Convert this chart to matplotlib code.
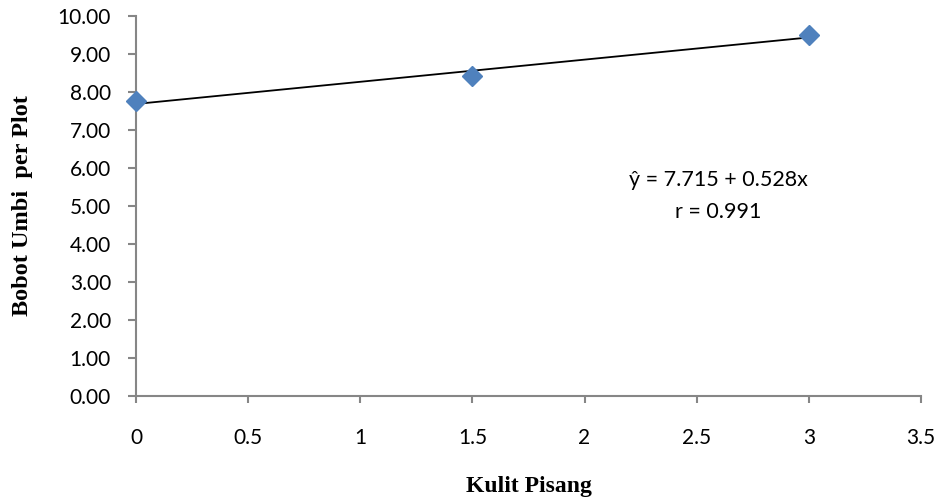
import numpy as np
import matplotlib
matplotlib.use('Agg')
import matplotlib.pyplot as plt

# Datos
KulitPisang = [0, 1.5, 3]
BobotUmbi = [7.75, 8.43, 9.50]
Ecuacion = 'ŷ = 7.715 + 0.528x'
Correlacion = 'r = 0.991'
XTicks = [0, 0.5, 1, 1.5, 2, 2.5, 3, 3.5]
YTicks = [0, 1, 2, 3, 4, 5, 6, 7, 8, 9, 10]

ColorEje = '#868686'
ColorPunto = '#4F81BD'

plt.rcParams['font.family'] = ['Lato', 'DejaVu Sans']

fig = plt.figure(figsize=(9.39, 4.98), dpi=100)
ax = fig.add_axes([0.1448, 0.2048, 0.836, 0.7631])

# Línea de tendencia (ajuste lineal)
coef = np.polyfit(KulitPisang, BobotUmbi, 1)
xs = np.array([KulitPisang[0], KulitPisang[-1]])
ax.plot(xs, np.polyval(coef, xs), color='black', linewidth=1.3, zorder=2)

ax.plot(KulitPisang, BobotUmbi, linestyle='none', marker='D', markersize=10.5,
        color=ColorPunto, markeredgecolor=ColorPunto, zorder=3, clip_on=False)

ax.set_xlim(0, 3.5)
ax.set_ylim(0, 10)
ax.set_xticks(XTicks)
ax.set_xticklabels([f'{t:g}' for t in XTicks])
ax.set_yticks(YTicks)
ax.set_yticklabels([f'{t:.2f}' for t in YTicks])

for s in ['top', 'right']:
    ax.spines[s].set_visible(False)
for s in ['left', 'bottom']:
    ax.spines[s].set_color(ColorEje)
    ax.spines[s].set_linewidth(1.5)

ax.tick_params(axis='x', direction='out', length=5, width=1.5, color=ColorEje,
               labelsize=15, pad=18)
ax.tick_params(axis='y', direction='out', length=6, width=1.5, color=ColorEje,
               labelsize=15, pad=12)

ax.set_xlabel('Kulit Pisang', family='Liberation Serif', fontweight='bold', fontsize=17)
ax.set_ylabel('Bobot Umbi  per Plot', family='Liberation Serif', fontweight='bold', fontsize=17.5)
ax.xaxis.set_label_coords(0.5, -0.21)
ax.yaxis.set_label_coords(-0.131, 0.5)

ax.text(2.595, 5.68, Ecuacion, ha='center', va='center', fontsize=15.5)
ax.text(2.595, 4.84, Correlacion, ha='center', va='center', fontsize=15.5)

plt.savefig('out.png', dpi=100)
